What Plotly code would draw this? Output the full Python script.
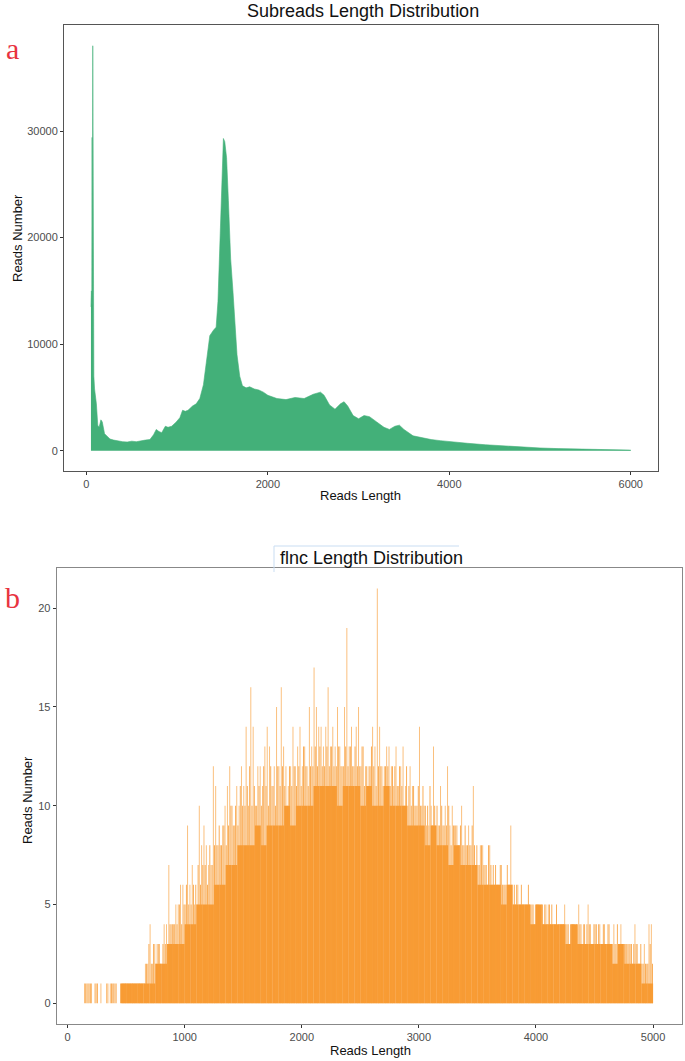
import plotly.graph_objects as go

# ---------------- Panel a: subreads length distribution ----------------
sub_len = [50, 55, 60, 63, 66, 70, 74, 78, 82, 90, 100, 110, 125, 140, 160, 175, 200, 230, 260, 300,
           350, 400, 450, 500, 550, 600, 650, 700, 740, 770, 800, 830, 870, 900, 940, 990, 1030, 1060,
           1090, 1120, 1170, 1210, 1250, 1290, 1320, 1340, 1360, 1400, 1430, 1450, 1470, 1490, 1510,
           1525, 1545, 1565, 1590, 1615, 1640, 1660, 1690, 1720, 1760, 1800, 1850, 1900, 1950, 2000,
           2100, 2200, 2300, 2400, 2500, 2580, 2620, 2680, 2740, 2800, 2840, 2880, 2940, 3000, 3060,
           3120, 3200, 3280, 3340, 3400, 3450, 3500, 3600, 3700, 3800, 3900, 4000, 4200, 4400, 4600,
           4800, 5000, 5200, 5400, 5600, 5800, 6000]
sub_num = [13500, 15000, 14000, 29400, 13000, 38000, 14000, 19200, 7000, 5800, 5000, 4400, 2400, 2200,
           2900, 2700, 1600, 1300, 1100, 1000, 900, 850, 820, 900, 850, 950, 1000, 1050, 1500, 2000,
           1800, 1700, 2300, 2200, 2300, 2700, 3100, 3800, 3700, 3800, 4200, 4400, 4900, 6200, 8000,
           9500, 10800, 11300, 11600, 14000, 19000, 25500, 29300, 29000, 27500, 23500, 18000, 15000,
           11500, 9000, 7000, 6100, 5900, 6000, 5800, 5700, 5500, 5200, 4900, 4800, 5000, 4900, 5300,
           5500, 5200, 4300, 3900, 4400, 4600, 4200, 3300, 3000, 3300, 3200, 2700, 2200, 2000, 2300,
           2400, 2000, 1400, 1200, 1050, 950, 850, 700, 560, 450, 350, 260, 200, 150, 110, 80, 60]

# ---------------- Panel b: flnc length distribution ----------------
# solid core level per 50 bp bin (bin start)
core_start = list(range(150, 5000, 50))
core_num = [0, 0, 0, 0, 0, 0,
            1, 1, 1, 1, 1, 1, 2, 2, 3, 3, 3, 4, 4, 5, 5, 5, 6, 6, 7, 7, 8, 8, 8, 9, 8, 9,
            9, 9, 10, 9, 10, 10, 10, 11, 11, 11, 11, 10, 11, 11, 11, 10, 11, 10, 10, 11, 10, 10,
            10, 9, 9, 9, 8, 9, 8, 8, 7, 8, 7, 7, 7, 6, 6, 6, 6, 5, 6, 5, 5, 5, 4, 5, 4, 4, 4,
            4, 3, 4, 3, 3, 3, 3, 3, 3, 2, 3, 2, 2, 2, 1, 1]
# per 20 bp bin (bin start): highest and second-highest single-length counts
bin_start = list(range(140, 5000, 20))
peak_num = [1, 1, 1, 1, 0, 1, 0, 1, 0, 0,
            1, 1, 1, 1, 0, 0, 1, 1, 1, 1,
            1, 1, 1, 1, 1, 1, 2, 2, 4, 2,
            3, 3, 3, 2, 4, 4, 7, 4, 4, 5,
            5, 6, 6, 5, 9, 6, 7, 5, 5, 10,
            8, 9, 8, 7, 7, 12, 11, 8, 8, 9,
            10, 11, 12, 10, 9, 11, 10, 12, 11, 14,
            10, 16, 14, 10, 12, 12, 11, 13, 14, 13,
            11, 12, 15, 12, 16, 13, 12, 11, 12, 14,
            12, 13, 14, 12, 13, 12, 15, 13, 17, 15,
            14, 14, 13, 14, 16, 13, 14, 13, 15, 13,
            12, 15, 19, 13, 14, 12, 14, 15, 12, 13,
            12, 11, 12, 14, 13, 21, 14, 12, 12, 13,
            13, 12, 11, 13, 11, 12, 13, 11, 10, 12,
            11, 10, 10, 14, 10, 10, 9, 9, 10, 13,
            9, 9, 11, 9, 10, 12, 9, 10, 9, 9,
            8, 10, 8, 8, 9, 8, 11, 7, 7, 8,
            8, 7, 6, 8, 6, 6, 6, 6, 7, 6,
            6, 6, 9, 5, 5, 6, 5, 5, 5, 5,
            5, 5, 4, 5, 5, 5, 4, 5, 5, 4,
            4, 4, 3, 4, 4, 5, 4, 3, 4, 4,
            4, 5, 4, 4, 3, 5, 4, 3, 4, 3,
            4, 3, 4, 3, 4, 3, 4, 3, 3, 4,
            3, 3, 3, 3, 2, 4, 3, 2, 2, 3,
            2, 4, 4]
second_num = [1, 1, 1, 0, 1, 1, 0, 0, 0, 1, 0, 1, 1, 1, 0,
              0, 1, 1, 1, 1, 1, 1, 1, 1, 1,
              1, 2, 3, 2, 3, 2, 3, 2, 3, 3,
              3, 4, 4, 4, 4, 5, 4, 5, 6, 5,
              5, 6, 6, 7, 6, 7, 7, 6, 8, 7,
              8, 8, 9, 8, 9, 8, 9, 10, 9, 10,
              9, 11, 10, 10, 11, 12, 10, 11, 10, 11,
              10, 12, 11, 10, 12, 11, 10, 12, 11, 12,
              11, 10, 12, 11, 12, 11, 12, 11, 13, 12,
              11, 12, 12, 13, 12, 13, 12, 12, 13, 12,
              13, 12, 12, 13, 12, 12, 13, 12, 13, 12,
              13, 12, 12, 13, 11, 12, 12, 13, 12, 11,
              12, 12, 11, 12, 12, 11, 12, 12, 11, 12,
              11, 10, 12, 11, 10, 11, 10, 11, 10, 11,
              10, 10, 11, 9, 10, 10, 9, 10, 9, 9,
              10, 8, 9, 9, 8, 9, 8, 9, 8, 8,
              9, 8, 8, 7, 8, 7, 7, 8, 7, 7,
              7, 6, 7, 6, 6, 7, 6, 6, 6, 6,
              5, 6, 5, 5, 6, 5, 5, 5, 5, 4,
              5, 5, 4, 5, 5, 4, 5, 4, 4, 4,
              4, 4, 4, 4, 3, 4, 4, 3, 4, 4,
              4, 3, 4, 4, 4, 3, 4, 3, 4, 3,
              3, 3, 4, 3, 3, 3, 3, 3, 3, 3,
              3, 2, 3, 2, 2, 2, 3, 2]

GREEN = "#43B079"
ORANGE = "#F89C35"
W, H = 685, 1061

fig = go.Figure()
fig.add_trace(go.Scatter(x=sub_len, y=sub_num, mode="lines", fill="tozeroy",
                         line=dict(color=GREEN, width=0.6), fillcolor=GREEN,
                         xaxis="x", yaxis="y", showlegend=False, hoverinfo="skip"))
fig.add_trace(go.Bar(x=core_start, y=core_num, width=50, offset=0,
                     marker=dict(color=ORANGE, line=dict(width=0)),
                     xaxis="x2", yaxis="y2", showlegend=False))
fig.add_trace(go.Bar(x=bin_start, y=second_num, width=8, offset=11,
                     marker=dict(color="rgba(248,156,53,0.88)", line=dict(width=0)),
                     xaxis="x2", yaxis="y2", showlegend=False))
fig.add_trace(go.Bar(x=bin_start, y=peak_num, width=8, offset=1,
                     marker=dict(color="rgba(248,156,53,0.68)", line=dict(width=0)),
                     xaxis="x2", yaxis="y2", showlegend=False))

def px_x(v):
    return v / W

def px_y(v):
    return 1 - v / H

TXT = "Liberation Sans, Arial, sans-serif"
axis_common = dict(showgrid=False, zeroline=False, showline=True, mirror=True,
                   ticks="outside", ticklen=3, tickwidth=1, tickcolor="#333333",
                   tickfont=dict(family=TXT, size=11, color="#4D4D4D"))

fig.update_layout(
    width=W, height=H, margin=dict(l=0, r=0, t=0, b=0),
    paper_bgcolor="white", plot_bgcolor="white", barmode="overlay",
    xaxis=dict(domain=[px_x(64), px_x(657.7)], range=[-247, 6297], anchor="y",
               tickvals=[0, 2000, 4000, 6000], tickformat="d", linecolor="#555555", **axis_common),
    yaxis=dict(domain=[px_y(471), px_y(25)], range=[-1900, 39950], anchor="x",
               tickvals=[0, 10000, 20000, 30000], tickformat="d", linecolor="#555555", **axis_common),
    xaxis2=dict(domain=[px_x(56.7), px_x(681.5)], range=[-92.5, 5242.5], anchor="y2",
                tickvals=[0, 1000, 2000, 3000, 4000, 5000], tickformat="d", linecolor="#888888", **axis_common),
    yaxis2=dict(domain=[px_y(1024), px_y(567.7)], range=[-1.05, 22.05], anchor="x2",
                tickvals=[0, 5, 10, 15, 20], linecolor="#888888", **axis_common),
)

ann = [
    dict(text="Subreads Length Distribution", x=px_x(363), y=px_y(11), size=18),
    dict(text="flnc Length Distribution", x=px_x(371), y=px_y(558), size=18),
    dict(text="Reads Length", x=px_x(361), y=px_y(495), size=13),
    dict(text="Reads Length", x=px_x(370), y=px_y(1050), size=13),
]
for a in ann:
    fig.add_annotation(text=a["text"], x=a["x"], y=a["y"], xref="paper", yref="paper",
                       showarrow=False, xanchor="center", yanchor="middle",
                       font=dict(family=TXT, size=a["size"], color="#111111"))
for txt, xx, yy in [("Reads Number", 17, 238), ("Reads Number", 27, 800)]:
    fig.add_annotation(text=txt, x=px_x(xx), y=px_y(yy), xref="paper", yref="paper",
                       showarrow=False, textangle=-90, xanchor="center", yanchor="middle",
                       font=dict(family=TXT, size=13, color="#111111"))
for lab, xx, yy in [("a", 12, 48), ("b", 12, 597)]:
    fig.add_annotation(text=lab, x=px_x(xx), y=px_y(yy), xref="paper", yref="paper",
                       showarrow=False, xanchor="center", yanchor="middle",
                       font=dict(family="Liberation Serif, DejaVu Serif, serif", size=30, color="#E8333F"))

# faint selection frame around the lower title
fig.add_shape(type="line", xref="paper", yref="paper", x0=px_x(274), x1=px_x(459),
              y0=px_y(546), y1=px_y(546), line=dict(color="#C9DDF2", width=1))
fig.add_shape(type="line", xref="paper", yref="paper", x0=px_x(274), x1=px_x(274),
              y0=px_y(546), y1=px_y(572), line=dict(color="#C9DDF2", width=1))

fig.write_html("out.html", config={"displayModeBar": False},
               post_script="document.body.style.margin='0';document.body.style.overflow='hidden';")
